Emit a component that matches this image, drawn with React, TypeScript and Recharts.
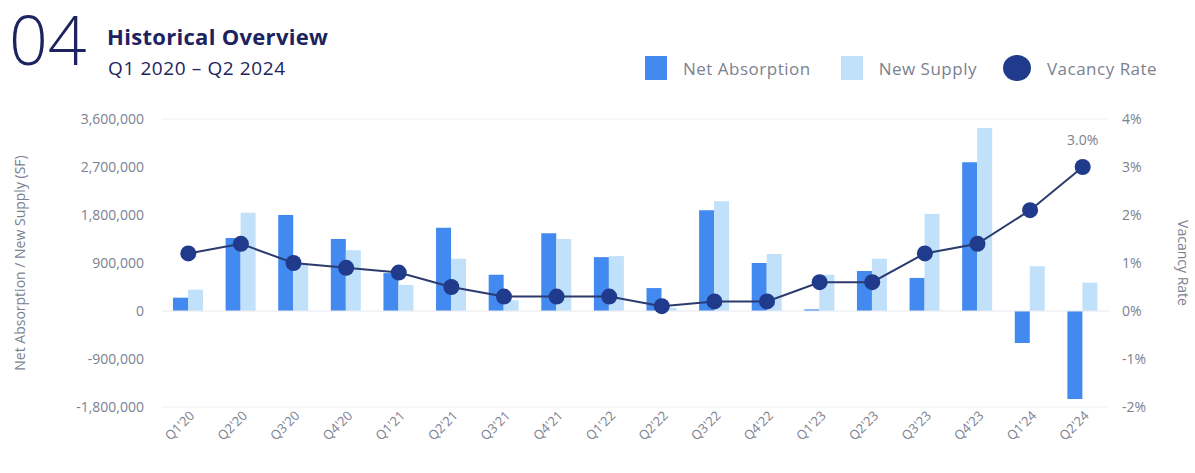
import React from 'react';
import {
    ComposedChart, Bar, Line, XAxis, YAxis, CartesianGrid, ReferenceLine, LabelList
} from 'recharts';

const quarters = [
    "Q1'20", "Q2'20", "Q3'20", "Q4'20", "Q1'21", "Q2'21", "Q3'21", "Q4'21", "Q1'22",
    "Q2'22", "Q3'22", "Q4'22", "Q1'23", "Q2'23", "Q3'23", "Q4'23", "Q1'24", "Q2'24"
];
const netAbsorption = [
    250000, 1370000, 1800000, 1350000, 710000, 1560000, 680000, 1460000, 1010000,
    430000, 1890000, 900000, 30000, 750000, 620000, 2790000, -600000, -1650000
];
const newSupply = [
    400000, 1840000, 900000, 1140000, 490000, 980000, 200000, 1350000, 1030000,
    60000, 2060000, 1070000, 680000, 980000, 1820000, 3430000, 840000, 530000
];
const vacancyRate = [
    1.2, 1.4, 1.0, 0.9, 0.8, 0.5, 0.3, 0.3, 0.3,
    0.1, 0.2, 0.2, 0.6, 0.6, 1.2, 1.4, 2.1, 3.0
];
const leftTicks = [-1800000, -900000, 0, 900000, 1800000, 2700000, 3600000];
const rightTicks = [-2, -1, 0, 1, 2, 3, 4];

const NAVY = '#1c2360';
const NA_COLOR = '#4289f0';
const NS_COLOR = '#c1e1fb';
const DOT_COLOR = '#203a8c';
const TEXT_GRAY = '#7b8190';
const FONT = '"Open Sans", sans-serif';

const data = quarters.map((q, i) => ({
    q,
    na: netAbsorption[i],
    ns: newSupply[i],
    vac: vacancyRate[i],
}));

const XTick = (props: any) => {
    const { x, y, payload } = props;
    return (
        <g transform={`translate(${x},${y})`}>
            <text x={4} y={6} textAnchor="end" fill={TEXT_GRAY} fontSize={13} fontFamily={FONT} transform="rotate(-45)">
                {payload.value}
            </text>
        </g>
    );
};

const LastLabel = (props: any) => {
    const { x, y, index, value } = props;
    if (index !== quarters.length - 1) return null;
    return (
        <text x={x} y={y - 22} textAnchor="middle" fill={TEXT_GRAY} fontSize={14} fontFamily={FONT}>
            {Number(value).toFixed(1)}%
        </text>
    );
};

const LegendItem = ({ color, label, round, gap }: { color: string; label: string; round?: boolean; gap: number }) => (
    <div style={{ display: 'flex', alignItems: 'center', marginRight: gap }}>
        <div style={{
            width: round ? 28 : 22, height: round ? 26 : 24, background: color,
            borderRadius: round ? '50%' : 0, marginRight: 16
        }} />
        <span style={{ color: TEXT_GRAY, fontSize: 17, letterSpacing: 0.5 }}>{label}</span>
    </div>
);

export default function App() {
    return (
        <div style={{ position: 'absolute', left: 0, top: 0, width: 1195, height: 473, background: '#fff', fontFamily: FONT }}>
            {/* header */}
            <svg style={{ position: 'absolute', left: 0, top: 0 }} width={100} height={80}>
                <text x={9} y={65} fontSize={68} fontWeight={300} fill={NAVY} fontFamily={FONT}>04</text>
            </svg>
            <div style={{ position: 'absolute', left: 107, top: 21, fontSize: 22, fontWeight: 700, color: NAVY, lineHeight: '30px', letterSpacing: 0.3 }}>Historical Overview</div>
            <div style={{ position: 'absolute', left: 108, top: 54, fontSize: 19, color: NAVY, lineHeight: '28px', letterSpacing: 0.6 }}>Q1 2020 – Q2 2024</div>

            {/* legend */}
            <div style={{ position: 'absolute', left: 645, top: 55, display: 'flex', alignItems: 'center', height: 26 }}>
                <LegendItem color={NA_COLOR} label="Net Absorption" gap={30} />
                <LegendItem color={NS_COLOR} label="New Supply" gap={26} />
                <LegendItem color={DOT_COLOR} label="Vacancy Rate" round gap={0} />
            </div>

            <div style={{ position: 'absolute', left: 0, top: 0 }}>
                <ComposedChart
                    width={1195}
                    height={473}
                    data={data}
                    margin={{ top: 119, right: 0, bottom: 0, left: 0 }}
                    barSize={15}
                    barGap={0}
                >
                    <CartesianGrid vertical={false} stroke="#eeeff2" />
                    <XAxis
                        dataKey="q"
                        height={66}
                        axisLine={false}
                        tickLine={false}
                        interval={0}
                        tick={<XTick />}
                    />
                    <YAxis
                        yAxisId="left"
                        width={162}
                        domain={[-1800000, 3600000]}
                        ticks={leftTicks}
                        axisLine={false}
                        tickLine={false}
                        tickMargin={12}
                        tick={{ fill: TEXT_GRAY, fontSize: 14, fontFamily: FONT }}
                        tickFormatter={(v) => Number(v).toLocaleString('en-US')}
                        label={{
                            value: 'Net Absorption / New Supply (SF)', angle: -90, position: 'insideLeft', offset: 20,
                            style: { fill: TEXT_GRAY, fontSize: 14, fontFamily: FONT, textAnchor: 'middle' }
                        }}
                    />
                    <YAxis
                        yAxisId="right"
                        orientation="right"
                        width={86}
                        domain={[-2, 4]}
                        ticks={rightTicks}
                        axisLine={false}
                        tickLine={false}
                        tickMargin={7}
                        tick={{ fill: TEXT_GRAY, fontSize: 14, fontFamily: FONT }}
                        tickFormatter={(v) => `${v}%`}
                        label={{
                            value: 'Vacancy Rate', angle: 90, position: 'insideRight', offset: 12,
                            style: { fill: TEXT_GRAY, fontSize: 14, fontFamily: FONT, textAnchor: 'middle' }
                        }}
                    />
                    <ReferenceLine yAxisId="left" y={0} stroke="#e6e8ee" />
                    <Bar yAxisId="left" dataKey="na" name="Net Absorption" fill={NA_COLOR} isAnimationActive={false} />
                    <Bar yAxisId="left" dataKey="ns" name="New Supply" fill={NS_COLOR} isAnimationActive={false} />
                    <Line
                        yAxisId="right"
                        dataKey="vac"
                        name="Vacancy Rate"
                        stroke="#2c3a6e"
                        strokeWidth={2}
                        dot={{ r: 8, fill: DOT_COLOR, stroke: DOT_COLOR, strokeWidth: 0 }}
                        activeDot={false}
                        isAnimationActive={false}
                    >
                        <LabelList dataKey="vac" content={<LastLabel />} />
                    </Line>
                </ComposedChart>
            </div>
        </div>
    );
}
